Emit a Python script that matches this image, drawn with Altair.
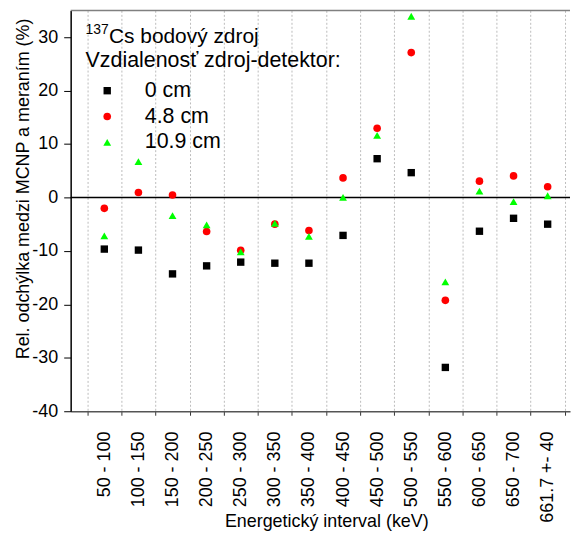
import altair as alt
import pandas as pd

categories = ["50 - 100", "100 - 150", "150 - 200", "200 - 250", "250 - 300",
              "300 - 350", "350 - 400", "400 - 450", "450 - 500", "500 - 550",
              "550 - 600", "600 - 650", "650 - 700", "661.7 +- 40"]
series_names = ["0 cm", "4.8 cm", "10.9 cm"]
vals_0cm = [-9.66, -9.85, -14.3, -12.8, -12.1, -12.3, -12.3, -7.1, 7.25, 4.64, -31.8, -6.32, -3.9, -5.0]
vals_48cm = [-2.04, 0.93, 0.45, -6.37, -9.9, -5.0, -6.19, 3.66, 12.95, 27.1, -19.25, 3.05, 4.03, 1.99]
vals_109cm = [-7.17, 6.7, -3.4, -5.13, -10.2, -4.83, -7.3, 0.0, 11.6, 33.9, -15.8, 1.19, -0.8, 0.32]
zero_line = [0]
y_ticks = list(range(-40, 35, 5))

rows = []
for name, vals in zip(series_names, [vals_0cm, vals_48cm, vals_109cm]):
    for c, v in zip(categories, vals):
        rows.append({"interval": c, "series": name, "value": v})
df = pd.DataFrame(rows)

W = 502
H = 403

x_enc = alt.X(
    "interval:N", sort=categories,
    scale=alt.Scale(domain=categories, paddingInner=0, paddingOuter=0.321, align=0.758),
    axis=alt.Axis(
        title="Energetický interval (keV)", tickBand="extent", grid=True,
        gridDash=[2, 2], gridColor="#bbbbbb", gridWidth=1,
        domainColor="#555555", domainWidth=1.5, tickColor="#333333", tickSize=4,
        labelAngle=270, labelFontSize=18, labelPadding=16, labelColor="black",
        titleFontSize=18, titleFontWeight="normal", titleColor="black",
        titleBaseline="alphabetic", titleX=257, titleY=116,
    ),
)

y_enc = alt.Y(
    "value:Q",
    scale=alt.Scale(domain=[-40, 35], nice=False, zero=False),
    axis=alt.Axis(
        title="Rel. odchýlka medzi MCNP a meraním (%)", values=y_ticks,
        labelExpr="datum.value % 10 === 0 ? '' + datum.value : ''",
        tickSize={"condition": {"test": "datum.value % 10 === 0", "value": 7}, "value": 4},
        grid=False, domainColor="black", domainWidth=1.5, tickColor="black",
        labelFontSize=18, labelColor="black", labelPadding=6,
        titleFontSize=18, titleFontWeight="normal", titleColor="black",
        titleBaseline="alphabetic", titleX=-42, titleY=179,
    ),
)

points = alt.Chart(df).mark_point(filled=True, opacity=1).encode(
    x=x_enc,
    y=y_enc,
    color=alt.Color("series:N", sort=series_names,
                    scale=alt.Scale(domain=series_names, range=["#000000", "#ff0000", "#00ff00"]),
                    legend=alt.Legend(
                        title="Vzdialenosť zdroj-detektor:", orient="none", legendX=15, legendY=39.5,
                        titleFontSize=21.5, titleFontWeight="normal", titleColor="black",
                        labelFontSize=21.5, labelColor="black", symbolSize=64,
                        symbolOffset=11, labelOffset=27, rowPadding=3, titlePadding=9,
                        symbolOpacity=1, symbolStrokeWidth=0, titleLimit=400,
                    )),
    shape=alt.Shape("series:N", sort=series_names,
                    scale=alt.Scale(domain=series_names, range=["square", "circle", "triangle-up"])),
    size=alt.Size("series:N", sort=series_names,
                  scale=alt.Scale(domain=series_names, range=[55, 62, 110]), legend=None),
)

zero = alt.Chart(pd.DataFrame({"y": zero_line})).mark_rule(color="black", strokeWidth=1.5).encode(
    y=alt.Y("y:Q")
)

top_border = alt.Chart(pd.DataFrame({"y": zero_line})).mark_rule(color="#808080", strokeWidth=1.5).encode(
    y=alt.value(0)
)

sup = alt.Chart(pd.DataFrame({"t": ["137"]})).mark_text(
    align="left", baseline="alphabetic", fontSize=14, color="black"
).encode(x=alt.value(15), y=alt.value(23.5), text="t:N")

src = alt.Chart(pd.DataFrame({"t": ["Cs bodový zdroj"]})).mark_text(
    align="left", baseline="alphabetic", fontSize=21, color="black"
).encode(x=alt.value(38.5), y=alt.value(33), text="t:N")

chart = alt.layer(zero, top_border, points, sup, src).properties(
    width=W, height=H,
    padding={"left": 7, "top": 0, "right": 0, "bottom": 0},
).configure(font="Liberation Sans").configure_view(strokeWidth=0)

chart.save("out.html", embed_options={"renderer": "svg", "actions": False})
